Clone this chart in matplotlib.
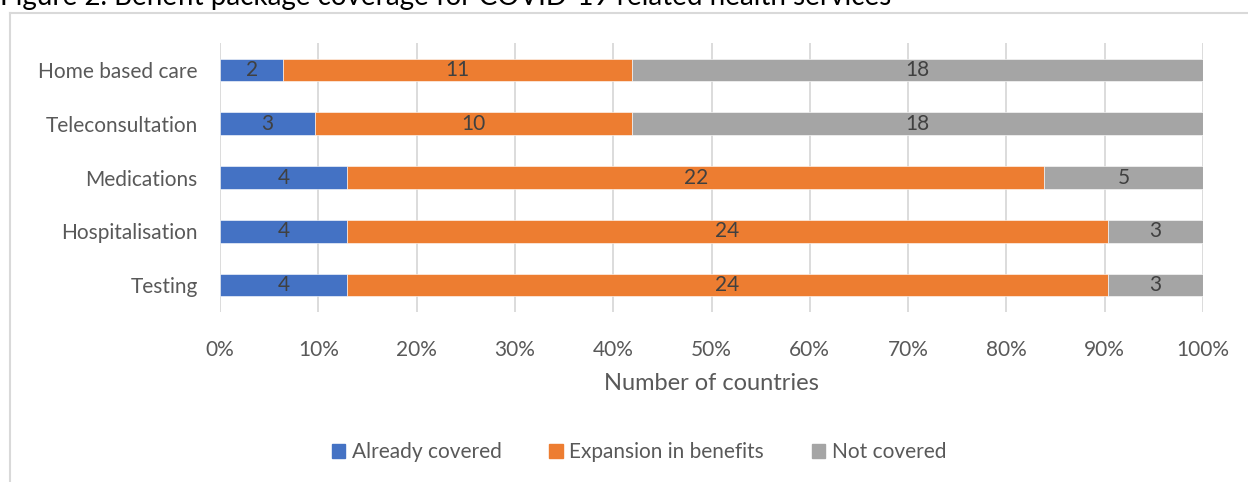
import matplotlib.pyplot as plt
from matplotlib.patches import Rectangle
from matplotlib.lines import Line2D
import numpy as np

categories = ["Testing", "Hospitalisation", "Medications", "Teleconsultation", "Home based care"]
already_covered = [4, 4, 4, 3, 2]
expansion = [24, 24, 22, 10, 11]
not_covered = [3, 3, 5, 18, 18]
series_names = ["Already covered", "Expansion in benefits", "Not covered"]
colors = ["#4472C4", "#ED7D31", "#A5A5A5"]
xticks = np.arange(0, 101, 10)

plt.rcParams["font.family"] = ["Lato", "DejaVu Sans"]

fig = plt.figure(figsize=(12.48, 4.82), dpi=100)
ax = fig.add_axes([220 / 1248, 1 - 312 / 482, 983 / 1248, 269 / 482])

# convert counts to percentage of countries
counts = np.array([already_covered, expansion, not_covered], dtype=float)
totals = counts.sum(axis=0)
shares = counts / totals * 100

y = np.arange(len(categories))
left = np.zeros(len(categories))
for vals, raw, name, color in zip(shares, counts, series_names, colors):
    ax.barh(y, vals, left=left, height=0.42, color=color, label=name,
            edgecolor="white", linewidth=0.4, zorder=3)
    for yi, l, v, r in zip(y, left, vals, raw):
        ax.text(l + v / 2, yi, f"{int(r)}", ha="center", va="center",
                fontsize=15, color="#404040", zorder=4)
    left += vals

ax.set_xlim(0, 100)
ax.set_ylim(-0.5, len(categories) - 0.5)
ax.set_xticks(xticks)
ax.set_xticklabels([f"{t}%" for t in xticks])
ax.set_yticks(y)
ax.set_yticklabels(categories)
ax.tick_params(axis="both", length=0, labelsize=15, labelcolor="#595959")
ax.tick_params(axis="x", pad=20)
ax.tick_params(axis="y", pad=16)
ax.grid(axis="x", color="#D9D9D9", linewidth=1.3, zorder=0)
for s in ax.spines.values():
    s.set_visible(False)

fig.text(711 / 1248, 1 - 383 / 482, "Number of countries", ha="center", va="center",
         fontsize=17, color="#595959")

handles = [Rectangle((0, 0), 1, 1, color=c) for c in colors]
fig.legend(handles, series_names, loc="center", bbox_to_anchor=(639 / 1248, 1 - 452 / 482),
           ncol=3, frameon=False, fontsize=15, labelcolor="#595959",
           handlelength=0.65, handleheight=0.65, handletextpad=0.3, columnspacing=2.3)

# chart frame (partially visible)
fig.add_artist(Line2D([10 / 1248, 1.0], [1 - 13 / 482] * 2, transform=fig.transFigure,
                      color="#D9D9D9", linewidth=1.5))
fig.add_artist(Line2D([10 / 1248] * 2, [0, 1 - 13 / 482], transform=fig.transFigure,
                      color="#D9D9D9", linewidth=1.5))

# document caption, cut off by the top of the image as in the source
fig.text(0.0, 1.0 + 3 / 482, "Figure 2. Benefit package coverage for COVID-19 related health services",
         ha="left", va="center", fontsize=20, color="black")

fig.savefig("out.png", dpi=100)
